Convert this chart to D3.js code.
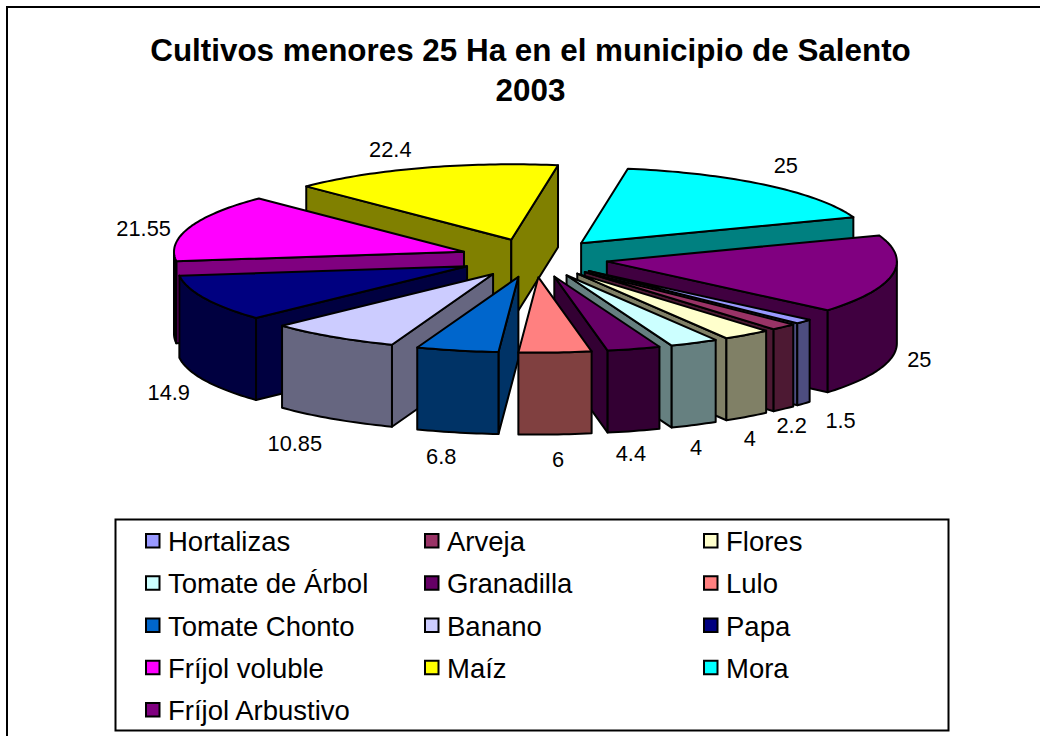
<!DOCTYPE html>
<html><head><meta charset="utf-8">
<script src="https://cdnjs.cloudflare.com/ajax/libs/d3/7.8.5/d3.min.js"></script>
<style>html,body{margin:0;padding:0;background:#fff}svg{display:block}text{font-family:"Liberation Sans",Arial,sans-serif;fill:#000}</style>
</head><body><svg id="c" width="1040" height="736"></svg>
<script>
const categories=["Hortalizas","Arveja","Flores","Tomate de Árbol","Granadilla","Lulo","Tomate Chonto","Banano","Papa","Fríjol voluble","Maíz","Mora","Fríjol Arbustivo"];
const values=[1.5,2.2,4,4,4.4,6,6.8,10.85,14.9,21.55,22.4,25,25];
const valueLabels=["1.5","2.2","4","4","4.4","6","6.8","10.85","14.9","21.55","22.4","25","25"];
const topColors=["#9999FF","#993366","#FFFFCC","#CCFFFF","#660066","#FF8080","#0066CC","#CCCCFF","#000080","#FF00FF","#FFFF00","#00FFFF","#800080"];
const sideColors=["#4D4D80","#4D1933","#808066","#668080","#330033","#804040","#003366","#666680","#000040","#800080","#808000","#008080","#400040"];
const wallColors=["#4D4D80","#4D1933","#808066","#668080","#330033","#804040","#003366","#666680","#000040","#000000","#808000","#008080","#400040"];
// label nudges relative to each slice's computed rim anchor
const labelNudge=[[37,17],[8,17],[3,22],[2,23],[-3,22],[3,25],[-16,24],[-38,25],[-36,12],[-46,1],[-32,-18],[20,-20],[27,3]];

const svg=d3.select("#c");
svg.append("path").attr("d",d3.line()([[7,736],[7,7],[1040,7]])).attr("fill","none").attr("stroke","#000").attr("stroke-width",2);

const title=svg.append("text").attr("text-anchor","middle").attr("font-weight","bold").attr("font-size",31.4);
["Cultivos menores 25 Ha en el municipio de Salento","2003"].forEach((t,i)=>title.append("tspan").attr("x",530.5).attr("y",61+i*40).text(t));

const cx=534,cy=258,R=290,tilt=0.26,explode=74,depth=82;
const rad=d3.scaleLinear().domain([0,1]).range([0,R]);
const pie=d3.pie().sort(null).value(d=>d.v).startAngle(130.4*Math.PI/180).endAngle((130.4+360)*Math.PI/180);
const slices=pie(values.map((v,i)=>({v,i})));
const px=(a,r)=>Math.sin(a)*r, py=(a,r)=>-Math.cos(a)*r*tilt;
function arcPts(a0,a1,ox,oy,dz){
  const n=Math.max(2,Math.ceil(Math.abs(a1-a0)/0.02));
  return d3.range(n+1).map(j=>{const a=a0+(a1-a0)*j/n;return [ox+px(a,rad(1)),oy+py(a,rad(1))+dz];});
}
const line=d3.line();
const order=slices.slice().sort((p,q)=>Math.cos((q.startAngle+q.endAngle)/2)-Math.cos((p.startAngle+p.endAngle)/2));
const g=svg.append("g").attr("stroke","#000").attr("stroke-width",2).attr("stroke-linejoin","round");
order.forEach(s=>{
  const i=s.data.i,mid=(s.startAngle+s.endAngle)/2;
  const ox=cx+px(mid,explode),oy=cy+py(mid,explode);
  const a0=s.startAngle,a1=s.endAngle;
  const face=a=>{
    const rx=ox+px(a,rad(1)),ry=oy+py(a,rad(1));
    g.append("path").attr("fill",sideColors[i]).attr("d",line([[ox,oy],[rx,ry],[rx,ry+depth],[ox,oy+depth]])+"Z");
  };
  if(Math.sin(a0)<0) face(a0);
  if(Math.sin(a1)>0) face(a1);
  // outer wall: only the arc part facing the viewer
  for(const k of [0,1]){
    const lo=Math.PI/2+k*2*Math.PI,hi=3*Math.PI/2+k*2*Math.PI;
    const b0=Math.max(a0,lo),b1=Math.min(a1,hi);
    if(b1>b0){
      const upper=arcPts(b0,b1,ox,oy,0),lower=arcPts(b1,b0,ox,oy,depth);
      g.append("path").attr("fill",wallColors[i]).attr("d",line(upper.concat(lower))+"Z");
    }
  }
  g.append("path").attr("fill",topColors[i]).attr("d",line([[ox,oy]].concat(arcPts(a0,a1,ox,oy,0)))+"Z");
});
// value labels
slices.forEach(s=>{
  const i=s.data.i,mid=(s.startAngle+s.endAngle)/2;
  const ox=cx+px(mid,explode),oy=cy+py(mid,explode);
  const dz=Math.cos(mid)<0?depth:0;
  svg.append("text").attr("text-anchor","middle").attr("dominant-baseline","central").attr("font-size",21.8)
    .attr("x",ox+px(mid,rad(1))+labelNudge[i][0]).attr("y",oy+py(mid,rad(1))+dz+labelNudge[i][1]).text(valueLabels[i]);
});
// legend
svg.append("rect").attr("x",115.5).attr("y",519.5).attr("width",833).attr("height",211).attr("fill","#fff").attr("stroke","#000").attr("stroke-width",2);
const colX=d3.scalePoint().domain([0,1,2]).range([145,703]);
const rowY=d3.scalePoint().domain([0,1,2,3,4]).range([551,720]);
categories.forEach((c,i)=>{
  const col=i%3,row=Math.floor(i/3);
  svg.append("rect").attr("x",colX(col)+1).attr("y",rowY(row)-17).attr("width",13.5).attr("height",13.5).attr("fill",topColors[i]).attr("stroke","#000").attr("stroke-width",2);
  svg.append("text").attr("x",colX(col)+23).attr("y",rowY(row)).attr("font-size",27.5).text(c);
});
</script></body></html>
